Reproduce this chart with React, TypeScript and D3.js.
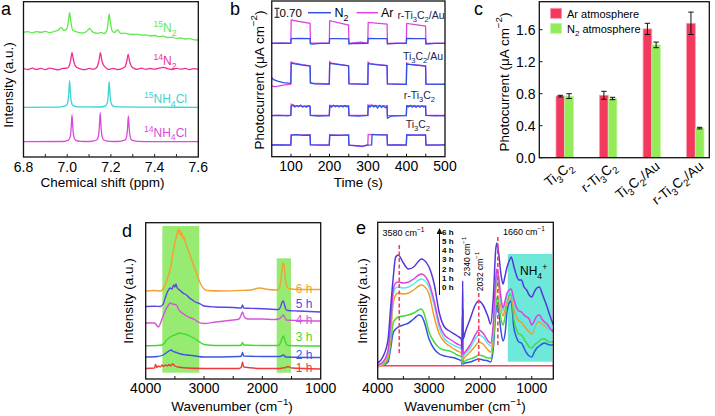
import React from "react";
import * as d3 from "d3";

const FONT = "'Liberation Sans', Arial, Helvetica, sans-serif";
type P = [number, number];

// ---------------- Panel a : 1H NMR ----------------
const A_XTICKS = [6.8, 7.0, 7.2, 7.4, 7.6];
const A_MINOR = [6.9, 7.0, 7.1, 7.2, 7.3, 7.4, 7.5];
const A_N15: P[] = [[6.8,124.7],[6.82,125.3],[6.84,124.2],[6.86,125.4],[6.88,124.6],[6.9,125.6],[6.92,124.4],[6.94,125.5],[6.96,127],[6.973,129.7],[6.985,126.5],[6.998,128],[7.005,135],[7.011,144.3],[7.017,135],[7.025,127],[7.04,125.5],[7.055,124.3],[7.07,124],[7.085,125],[7.095,127],[7.103,128.7],[7.112,126],[7.125,124.2],[7.14,123.7],[7.155,124.5],[7.17,123.5],[7.182,127],[7.187,134],[7.192,143],[7.198,134],[7.205,126.5],[7.215,124.5],[7.231,127],[7.245,123.5],[7.26,123.8],[7.28,123],[7.3,122.5],[7.32,122.8],[7.34,121.8],[7.36,122.2],[7.38,121],[7.4,121.5],[7.42,120.3],[7.44,120.8],[7.46,119.5],[7.48,119.8],[7.5,118.7],[7.52,119],[7.54,118],[7.56,118.3],[7.58,117.2],[7.6,117]];
const A_N14: P[] = [[6.8,88.5],[6.82,87.5],[6.84,88.8],[6.86,87.6],[6.88,88.6],[6.9,87.4],[6.92,88.9],[6.94,88],[6.96,87.2],[6.98,88.7],[7.0,88.8],[7.01,91.5],[7.016,97],[7.022,104.3],[7.028,97.5],[7.035,92],[7.045,89.5],[7.06,88.2],[7.08,87.3],[7.1,88.6],[7.12,87.8],[7.135,89.5],[7.145,96],[7.152,104.3],[7.158,97],[7.166,92],[7.178,89],[7.19,87.6],[7.21,88.7],[7.23,87.5],[7.25,88.4],[7.265,90.3],[7.273,96],[7.279,102.7],[7.285,96],[7.293,91],[7.305,88.6],[7.32,87.7],[7.34,88.9],[7.36,87.6],[7.38,88.5],[7.4,87.9],[7.42,88.8],[7.44,89.6],[7.46,88.3],[7.48,87.5],[7.5,88.7],[7.52,87.8],[7.54,88.6],[7.56,87.4],[7.58,88.3],[7.6,87.9]];
const A_NH4_15: P[] = [[6.8,49.7],[6.96,49.9],[6.995,51.3],[7.003,55],[7.007,63],[7.011,76.3],[7.015,63],[7.019,55],[7.027,51.3],[7.05,50.1],[7.15,50],[7.176,51.2],[7.184,54.8],[7.188,62.5],[7.192,75.3],[7.196,62.5],[7.2,54.8],[7.208,51.2],[7.23,50.1],[7.4,49.8],[7.6,49.7]];
const A_NH4_14: P[] = [[6.8,15.3],[6.98,15.5],[7.006,16.9],[7.014,20.6],[7.018,28.6],[7.022,42],[7.026,28.6],[7.03,20.6],[7.038,16.9],[7.06,15.7],[7.1,15.5],[7.135,17],[7.143,21.1],[7.147,29.8],[7.151,44.3],[7.155,29.8],[7.159,21.1],[7.167,17],[7.19,15.7],[7.23,15.5],[7.264,16.8],[7.272,20.4],[7.276,28.2],[7.28,41],[7.284,28.2],[7.288,20.4],[7.296,16.8],[7.32,15.7],[7.4,15.4],[7.6,15.3]];
const A_LABELS = ["15N2", "14N2", "15NH4Cl", "14NH4Cl"];

// ---------------- Panel b : photocurrent ----------------
const B_XTICKS = [100, 200, 300, 400, 500];
const B_MINOR = [100, 150, 200, 250, 300, 350, 400, 450];
const B_SAMPLES = ["r-Ti3C2/Au", "Ti3C2/Au", "r-Ti3C2", "Ti3C2"];
const B_RAU_N2: P[] = [[50,113.4],[75,113.6],[99.5,113.3],[100.5,118],[125,118.2],[149.5,118],[150.5,113],[155,112.5],[175,113.4],[199.5,113.3],[200.5,118],[225,118.1],[249.5,117.9],[250.5,112.8],[260,113.2],[299.5,113.3],[300.5,118.3],[325,118],[349.5,118],[350.5,112.8],[375,113.3],[399.5,113.4],[400.5,118.2],[425,118],[449.5,118],[450.5,112.7],[475,113.3],[500,113.4]];
const B_RAU_AR: P[] = [[50,113.6],[99.5,113.7],[100.5,136.7],[149.5,133.4],[150.5,113.5],[199.5,113.8],[200.5,136],[249.5,131.7],[250.5,113.2],[280,114.5],[299.5,113.6],[300.5,134.3],[349.5,132.7],[350.5,113.2],[399.5,113.7],[400.5,133.3],[449.5,130.7],[450.5,113.4],[500,113.5]];
const B_AU_N2: P[] = [[50,79],[55,77],[65,75.5],[80,74],[99.5,73.4],[100.5,93.6],[110,92.8],[130,91.5],[149.5,90.7],[150.5,74],[160,72.8],[199.5,72.5],[200.5,93.4],[225,92],[249.5,90.8],[250.5,73],[299.5,72.4],[300.5,93],[325,91.8],[349.5,91],[350.5,72.8],[399.5,72.3],[400.5,92.6],[425,91.6],[449.5,90.5],[450.5,72.6],[500,72.4]];
const B_AU_AR: P[] = [[50,70.5],[60,70],[80,71.5],[99.5,72.5],[100.5,94.7],[105,93.8],[130,92],[149.5,91],[150.5,73.5],[199.5,72.7],[200.5,95],[205,93.5],[249.5,91],[250.5,72.8],[299.5,72.5],[300.5,94.5],[305,93],[349.5,91.2],[350.5,72.8],[399.5,72.4],[400.5,93.8],[405,92.6],[449.5,90.8],[450.5,72.7],[500,72.5]];
const B_R_N2: P[] = [[50,41],[70,41.3],[90,40.8],[99.5,41.2],[100.5,50.5],[105,51.5],[110,49.8],[115,51],[120,50],[125,51.6],[130,49.5],[135,50.8],[140,49.6],[145,51],[149.5,50.2],[150.5,41.3],[170,40.7],[199.5,41],[200.5,50.8],[205,49.6],[210,51.4],[215,50],[220,51.2],[225,49.7],[230,50.9],[235,49.8],[240,51.1],[245,50],[249.5,50.6],[250.5,41],[275,40.6],[299.5,41.2],[300.5,51],[305,49.5],[310,51.5],[315,49.7],[320,51],[325,48.8],[330,51.3],[335,49.4],[340,50.7],[345,49],[349.5,50.5],[350.5,38.5],[355,39.5],[360,40.5],[375,40.8],[399.5,41],[400.5,50.8],[405,49.8],[410,51.3],[415,49.5],[420,51],[425,49.3],[430,50.9],[435,49.5],[440,51],[445,49.8],[449.5,50.5],[450.5,41.2],[475,40.8],[500,41]];
const B_R_AR: P[] = [[50,41.3],[99.5,41.5],[100.5,52.5],[110,51],[130,50.5],[149.5,50.8],[150.5,41.5],[199.5,41.2],[200.5,51.3],[225,50.8],[249.5,50.7],[250.5,41.3],[299.5,41.4],[300.5,51.5],[325,51],[349.5,50.8],[350.5,41],[399.5,41.3],[400.5,51],[425,50.8],[449.5,50.6],[450.5,41.4],[500,41.2]];
const B_T_N2: P[] = [[50,11.7],[75,11.9],[99.5,11.6],[100.5,21.5],[115,22],[130,21.3],[149.5,21.7],[150.5,11.8],[175,11.5],[199.5,11.7],[200.5,21.7],[225,21.4],[249.5,21.8],[250.5,11.5],[270,11],[285,10.5],[299.5,11.5],[309.5,11.8],[310.5,22.3],[330,21.8],[349.5,21.9],[350.5,11.6],[375,11.8],[399.5,11.6],[400.5,21.8],[425,21.5],[449.5,21.7],[450.5,11.7],[475,11.5],[500,11.8]];
const B_T_AR: P[] = [[50,11.9],[99.5,11.8],[100.5,21.9],[149.5,21.8],[150.5,12],[199.5,11.8],[200.5,21.6],[249.5,21.6],[250.5,11.5],[285,10],[299.5,12],[300.5,22.3],[310,22.1],[349.5,21.8],[350.5,11.8],[399.5,11.9],[400.5,21.8],[449.5,21.6],[450.5,11.9],[500,11.8]];
const B_SCALE_LABEL = "0.70";

// ---------------- Panel c : bars ----------------
const C_CATS = ["Ti3C2", "r-Ti3C2", "Ti3C2/Au", "r-Ti3C2/Au"];
const C_AR = [0.77, 0.78, 1.61, 1.68];
const C_AR_ERR = [0.01, 0.05, 0.07, 0.14];
const C_N2 = [0.77, 0.74, 1.41, 0.37];
const C_N2_ERR = [0.03, 0.015, 0.035, 0.01];
const C_YTICKS = [0, 0.4, 0.8, 1.2, 1.6];
const C_LEGEND = ["Ar atmosphere", "N2 atmosphere"];

// ---------------- Panel d : in-situ IR (N2) ----------------
const D_XLABELS = [4000, 3000, 2000, 1000];
const D_MINOR = [3500, 3000, 2500, 2000, 1500];
const D_BANDS: [number, number, number][] = [[3715, 3081, 153], [1754, 1509, 120.7]];
const D_TIMES = ["6 h", "5 h", "4 h", "3 h", "2 h", "1 h"];
const D_6H: P[] = [[4000,88],[3850,88.5],[3750,88],[3700,90],[3660,95],[3620,102],[3580,110],[3550,120],[3520,130],[3500,136],[3480,141],[3460,146],[3440,150],[3425,145],[3410,149],[3395,143],[3380,146],[3360,140],[3340,142],[3320,136],[3300,134],[3270,128],[3240,124],[3200,117],[3150,109],[3100,101],[3050,94],[3000,90],[2950,88.5],[2700,88],[2400,88.5],[2200,89],[2050,91],[1900,89.5],[1760,89],[1720,90],[1690,96],[1670,106],[1650,115],[1640,116],[1625,112],[1605,100],[1580,93],[1550,90.5],[1400,89.5],[1000,89.5]];
const D_5H: P[] = [[4000,72.5],[3850,72.8],[3750,72.5],[3700,75],[3660,82],[3620,88],[3580,91],[3550,90],[3520,94],[3500,92],[3480,95],[3460,91],[3440,90],[3400,88],[3350,85.5],[3300,84],[3250,81],[3200,79],[3150,77],[3100,76],[3050,74.5],[3000,73],[2800,72],[2500,71.5],[2360,71],[2340,74],[2320,71],[2100,70.5],[1900,70],[1720,69.5],[1690,72],[1660,77],[1640,78],[1620,74],[1590,69],[1560,68.5],[1400,68],[1200,67.5],[1000,67]];
const D_4H: P[] = [[4000,56],[3850,56],[3780,52],[3740,57],[3700,63],[3660,69],[3620,73],[3580,76],[3540,75],[3500,74.5],[3470,74],[3440,70],[3400,67],[3350,65],[3300,63],[3250,61.5],[3200,60.5],[3150,59],[3100,57],[3000,55.5],[2800,57],[2500,59],[2400,60],[2370,63],[2340,67],[2310,62],[2250,60],[2000,60],[1800,59.5],[1720,60],[1690,61],[1660,63],[1640,64],[1620,62],[1590,59],[1400,58.5],[1000,58]];
const D_3H: P[] = [[4000,33.3],[3800,33.5],[3720,34],[3680,36],[3640,39],[3600,41],[3550,43],[3500,44],[3450,45.5],[3400,46],[3350,45],[3300,44.5],[3250,43],[3200,41.5],[3150,40],[3100,38],[3050,36],[3000,34.5],[2800,33.5],[2400,33.5],[2360,34],[2340,36.5],[2320,34],[2000,33.5],[1720,33.5],[1690,36],[1660,41],[1640,43],[1620,40],[1590,35],[1560,33.5],[1000,33]];
const D_2H: P[] = [[4000,22],[3800,22.5],[3700,24],[3650,26],[3600,28],[3560,29],[3530,27.5],[3500,27],[3450,26],[3400,25],[3300,24],[3200,23.5],[3100,22.5],[3000,22],[2400,22.5],[2360,23],[2340,26.5],[2320,23],[2000,22.5],[1700,22.5],[1660,23.5],[1640,24],[1600,22],[1000,21.5]];
const D_1H: P[] = [[4000,10.5],[3850,11],[3830,14.5],[3810,11.5],[3780,13],[3750,12],[3720,14],[3700,12.5],[3660,14],[3630,13],[3600,14.5],[3570,13],[3540,15],[3500,13],[3450,12],[3300,11],[3000,10.5],[2400,10.5],[2360,12],[2340,17],[2320,12],[2000,10.5],[1700,10.5],[1660,11],[1600,11.5],[1560,12.5],[1500,11],[1000,10]];

// ---------------- Panel e : in-situ IR ----------------
const E_XLABELS = [4000, 3000, 2000, 1000];
const E_MINOR = [3500, 3000, 2500, 2000, 1500, 1000];
const E_WN = [4000,3900,3800,3750,3700,3650,3600,3500,3400,3300,3200,3150,3100,3000,2900,2800,2700,2600,2450,2370,2355,2345,2335,2300,2200,2100,2032,1950,1850,1800,1750,1700,1680,1650,1600,1560,1520,1480,1440,1400,1350,1300,1250,1200,1150,1100,1050,1000,950,900,850,800,750,700,650,600,580];
const E_6H = [16,22,39,70,100,122,124,116,110,112,118,120,119,112,95,66,52,48,43,40,30,98,40,46,60,74,78,74,62,55,80,130,136,128,105,95,103,112,118,122,113,104,99,99,92,89,84,82,87,91,92,86,79,72,64,57,54];
const E_5H = [14,17,28,55,88,96,97,96,97,100,104,105,104,96,78,55,44,40,35,33,22,70,25,27,34,44,49,46,38,36,55,100,110,104,82,71,78,86,89,90,80,72,68,67,64,62,60,54,58,63,64,60,57,55,51,48,47];
const E_4H = [13,16,26,50,84,91,92,91,92,95,99,100,99,92,74,51,40,36,32,30,20,70,23,25,31,40,44,42,35,33,50,95,105,100,78,68,75,83,86,87,76,66,62,60,57,55,51,47,52,58,60,56,55,52,50,49,50];
const E_3H = [12,14,22,42,75,84,86,85,86,89,93,94,93,85,62,45,37,33,28,26,18,70,20,22,27,33,37,35,29,27,44,88,100,96,72,63,70,77,80,80,70,62,58,57,53,50,47,45,50,56,57,55,53,51,50,49,49];
const E_2H = [13,14,20,35,56,60,62,63,64,66,69,70,66,47,37,31,29,28,24,22,15,70,16,18,20,22,24,23,21,21,35,72,82,78,60,54,62,76,83,85,60,50,45,44,40,36,32,31,34,36,38,40,40,38,37,37,37];
const E_1H = [13,14,17,30,46,50,52,54,56,60,64,63,58,40,30,25,23,22,20,18,14,70,15,16,17,19,20,19,18,17,30,66,74,70,48,38,45,68,76,78,52,42,37,36,31,26,23,22,27,31,33,35,36,35,34,34,34];
const E_0H: P[] = [[4000, 13.3], [580, 13.3]];
const E_TIMES = ["6 h", "5 h", "4 h", "3 h", "2 h", "1 h", "0 h"];
const E_DASHED: [number, number, number][] = [[3580, 134, 24], [2032, 86, 16], [1660, 142, 32]];
const E_NH4_BOX = [1467, 601, 125, 17.3];

// ---------------- helpers ----------------
type Kind = "n" | "b" | "p";
function parts(ps: [string, Kind][], fs: number) {
  let cur = 0;
  return ps.map(([t, k], i) => {
    const target = k === "b" ? 0.3 * fs : k === "p" ? -0.42 * fs : 0;
    const dy = target - cur;
    cur = target;
    return (
      <tspan key={i} dy={dy} fontSize={k === "n" ? fs : 0.72 * fs}>
        {t}
      </tspan>
    );
  });
}
function chem(s: string, fs: number) {
  const toks = s.match(/(\d+|\+|[^\d+]+)/g) || [];
  const ps: [string, Kind][] = toks.map((t, i) => {
    if (/^\d+$/.test(t)) return [t, i === 0 ? "p" : "b"];
    if (t === "+") return [t, "p"];
    return [t, "n"];
  });
  return parts(ps, fs);
}
function unit(pre: string, exp: string, fs: number) {
  return parts([[pre, "n"], [exp, "p"], [")", "n"]], fs);
}

const TICK_FS = 14;
const TITLE_FS = 13.5;

function Frame({ x, y }: { x: any; y: any }) {
  const [x0, x1] = x.range();
  const [y0, y1] = y.range();
  return (
    <rect x={Math.min(x0, x1)} y={Math.min(y0, y1)} width={Math.abs(x1 - x0)} height={Math.abs(y1 - y0)}
      fill="none" stroke="#111" strokeWidth={1.3} />
  );
}

function PanelA() {
  const x = d3.scaleLinear([6.8, 7.6], [23.5, 198.3]);
  const y = d3.scaleLinear([0, 155.3], [157, 1.7]);
  const line = d3.line<P>().x((d) => x(d[0])).y((d) => y(d[1])).curve(d3.curveMonotoneX);
  const ser = [
    { d: A_N15, c: "#5fe84f", lx: 176.5, ly: 32.3 },
    { d: A_N14, c: "#ee2f95", lx: 176.5, ly: 65 },
    { d: A_NH4_15, c: "#3fd2d2", lx: 187, ly: 103.3 },
    { d: A_NH4_14, c: "#d94bdc", lx: 187, ly: 136.7 },
  ];
  const yb = y(0);
  return (
    <g>
      {ser.map((s, i) => (
        <path key={i} d={line(s.d) || ""} fill="none" stroke={s.c} strokeWidth={1.3} />
      ))}
      {ser.map((s, i) => (
        <text key={i} x={s.lx} y={s.ly} fill={s.c} textAnchor="end" fontSize={12}>
          {chem(A_LABELS[i], 12)}
        </text>
      ))}
      <Frame x={x} y={y} />
      {A_MINOR.map((t) => (
        <line key={t} x1={x(t)} x2={x(t)} y1={yb} y2={yb - 3} stroke="#224" strokeWidth={1} />
      ))}
      {A_XTICKS.map((t) => (
        <text key={t} x={x(t)} y={171.5} textAnchor="middle" fontSize={TICK_FS}>
          {d3.format(".1f")(t)}
        </text>
      ))}
      <text x={102.5} y={187} textAnchor="middle" fontSize={TITLE_FS}>Chemical shift (ppm)</text>
      <text transform="translate(8.5,85) rotate(-90)" textAnchor="middle" dominantBaseline="central" fontSize={TITLE_FS}>
        Intensity (a.u.)
      </text>
      <text x={1} y={15} fontSize={18}>a</text>
    </g>
  );
}

function PanelB() {
  const x = d3.scaleLinear([50, 500], [271.75, 445]);
  const y = d3.scaleLinear([0, 155.7], [156.7, 1]);
  const line = d3.line<P>().x((d) => x(d[0])).y((d) => y(d[1]));
  const N2C = "#3150e6";
  const ARC = "#e043e3";
  const pairs = [
    { ar: B_RAU_AR, n2: B_RAU_N2, lx: 444.5, ly: 18.5 },
    { ar: B_AU_AR, n2: B_AU_N2, lx: 443, ly: 60 },
    { ar: B_R_AR, n2: B_R_N2, lx: 435, ly: 99 },
    { ar: B_T_AR, n2: B_T_N2, lx: 430, ly: 128.3 },
  ];
  const yb = y(0);
  return (
    <g>
      {pairs.map((p, i) => (
        <g key={i}>
          <path d={line(p.ar) || ""} fill="none" stroke={ARC} strokeWidth={1.3} />
          <path d={line(p.n2) || ""} fill="none" stroke={N2C} strokeWidth={1.3} />
          <text x={p.lx} y={p.ly} textAnchor="end" fontSize={10.5} fill="#23234f">
            {chem(B_SAMPLES[i], 10.5)}
          </text>
        </g>
      ))}
      <Frame x={x} y={y} />
      {B_MINOR.map((t) => (
        <line key={t} x1={x(t)} x2={x(t)} y1={yb} y2={yb - 3} stroke="#111" strokeWidth={1} />
      ))}
      {B_XTICKS.map((t) => (
        <text key={t} x={x(t)} y={171} textAnchor="middle" fontSize={TICK_FS}>{t}</text>
      ))}
      <text x={358.3} y={187} textAnchor="middle" fontSize={TITLE_FS}>Time (s)</text>
      <text transform="translate(258.5,80) rotate(-90)" textAnchor="middle" dominantBaseline="central" fontSize={TITLE_FS}>
        {unit("Photocurrent (μA cm", "−2", TITLE_FS)}
      </text>
      <g stroke="#111" strokeWidth={1}>
        <line x1={277} x2={277} y1={y(148.4)} y2={y(139.4)} />
        <line x1={274.5} x2={279.5} y1={y(148.4)} y2={y(148.4)} />
        <line x1={274.5} x2={279.5} y1={y(139.4)} y2={y(139.4)} />
      </g>
      <text x={279.5} y={17.3} fontSize={11.5}>{B_SCALE_LABEL}</text>
      <line x1={308} x2={331} y1={12.7} y2={12.7} stroke={N2C} strokeWidth={1.5} />
      <text x={334.5} y={16.8} fontSize={12.5}>{parts([["N", "n"], ["2", "b"]], 12.5)}</text>
      <line x1={356.5} x2={378} y1={12.7} y2={12.7} stroke={ARC} strokeWidth={1.5} />
      <text x={381} y={16.8} fontSize={12.5}>Ar</text>
      <text x={230} y={15} fontSize={18}>b</text>
    </g>
  );
}

function PanelC() {
  const x = d3.scalePoint<string>().domain(C_CATS).range([564.7, 695.3]);
  const y = d3.scaleLinear([0, 1.95], [157.7, 1.7]);
  const bw = 8.7;
  const RED = "#f33a5e";
  const GREEN = "#93eb58";
  const frameX = d3.scaleLinear([0, 1], [539.3, 709.3]);
  const err = (cx: number, v: number, e: number, k: string) => (
    <g key={k} stroke="#111" strokeWidth={1}>
      <line x1={cx} x2={cx} y1={y(v + e)} y2={y(v - e)} />
      <line x1={cx - 2.7} x2={cx + 2.7} y1={y(v + e)} y2={y(v + e)} />
      <line x1={cx - 2.7} x2={cx + 2.7} y1={y(v - e)} y2={y(v - e)} />
    </g>
  );
  return (
    <g>
      {C_CATS.map((c, i) => {
        const cx = x(c) as number;
        return (
          <g key={c}>
            <rect x={cx - bw} y={y(C_AR[i])} width={bw} height={y(0) - y(C_AR[i])} fill={RED} stroke="#f89bb0" strokeWidth={0.8} />
            <rect x={cx} y={y(C_N2[i])} width={bw} height={y(0) - y(C_N2[i])} fill={GREEN} stroke="#c5f3a4" strokeWidth={0.8} />
            {err(cx - bw / 2, C_AR[i], C_AR_ERR[i], "a" + i)}
            {err(cx + bw / 2, C_N2[i], C_N2_ERR[i], "n" + i)}
            <text transform={`translate(${cx + 9},168) rotate(-38)`} textAnchor="end" fontSize={13.5}>
              {chem(c, 13.5)}
            </text>
          </g>
        );
      })}
      <Frame x={frameX} y={y} />
      {C_YTICKS.map((t) => (
        <g key={t}>
          <line x1={539.3} x2={542.5} y1={y(t)} y2={y(t)} stroke="#111" strokeWidth={1} />
          <text x={535.5} y={y(t)} dy="0.35em" textAnchor="end" fontSize={TICK_FS}>{d3.format(".1f")(t)}</text>
        </g>
      ))}
      <text transform="translate(503.5,82) rotate(-90)" textAnchor="middle" dominantBaseline="central" fontSize={TITLE_FS}>
        {unit("Photocurrent (μA cm", "−2", TITLE_FS)}
      </text>
      <rect x={550.5} y={8.3} width={11} height={10} fill={RED} stroke="#f89bb0" strokeWidth={0.8} />
      <rect x={550.5} y={23.3} width={11} height={10} fill={GREEN} stroke="#c5f3a4" strokeWidth={0.8} />
      <text x={567} y={17.5} fontSize={11}>{C_LEGEND[0]}</text>
      <text x={567} y={32.5} fontSize={11}>{chem(C_LEGEND[1], 11)}</text>
      <text x={474} y={15} fontSize={18}>c</text>
    </g>
  );
}

function PanelD() {
  const x = d3.scaleLinear([4000, 1000], [145.7, 320.7]);
  const y = d3.scaleLinear([0, 156.3], [379, 222.7]);
  const line = d3.line<P>().x((d) => x(d[0])).y((d) => y(d[1])).curve(d3.curveMonotoneX);
  const ser = [
    { d: D_1H, c: "#f0393c", ly: 368.3 },
    { d: D_2H, c: "#3a57e2", ly: 355 },
    { d: D_3H, c: "#3edc2e", ly: 337.3 },
    { d: D_4H, c: "#d853dc", ly: 320 },
    { d: D_5H, c: "#5c45e8", ly: 304 },
    { d: D_6H, c: "#f4a131", ly: 289.3 },
  ];
  const yb = y(0);
  return (
    <g>
      {D_BANDS.map(([a, b, top], i) => (
        <rect key={i} x={x(a)} width={x(b) - x(a)} y={y(top)} height={y(6.3) - y(top)} fill="#97ea72" />
      ))}
      {ser.map((s, i) => (
        <path key={i} d={line(s.d) || ""} fill="none" stroke={s.c} strokeWidth={1.4} />
      ))}
      {ser.map((s, i) => (
        <text key={i} x={312.5} y={s.ly} dominantBaseline="central" textAnchor="end" fontSize={12} fill={s.c}>
          {D_TIMES[5 - i]}
        </text>
      ))}
      <Frame x={x} y={y} />
      {D_MINOR.map((t) => (
        <line key={t} x1={x(t)} x2={x(t)} y1={yb} y2={yb - 3} stroke="#111" strokeWidth={1} />
      ))}
      {D_XLABELS.map((t) => (
        <text key={t} x={x(t)} y={393} textAnchor="middle" fontSize={TICK_FS}>{t}</text>
      ))}
      <text x={232} y={410.5} textAnchor="middle" fontSize={TITLE_FS}>{unit("Wavenumber (cm", "−1", TITLE_FS)}</text>
      <text transform="translate(128.5,301) rotate(-90)" textAnchor="middle" dominantBaseline="central" fontSize={TITLE_FS}>
        Intensity (a.u.)
      </text>
      <text x={122} y={237} fontSize={18}>d</text>
    </g>
  );
}

function PanelE() {
  const x = d3.scaleLinear([4000, 580], [377.7, 553.3]);
  const y = d3.scaleLinear([0, 156.7], [379, 222.3]);
  const line = d3.line<P>().x((d) => x(d[0])).y((d) => y(d[1])).curve(d3.curveMonotoneX);
  const zip = (v: number[]): P[] => E_WN.map((w, i) => [w, v[i]]);
  const ser = [
    { d: E_0H, c: "#f5405c" },
    { d: zip(E_1H), c: "#3551e2" },
    { d: zip(E_2H), c: "#43d943" },
    { d: zip(E_3H), c: "#f59a28" },
    { d: zip(E_4H), c: "#55e8ee" },
    { d: zip(E_5H), c: "#dc42dc" },
    { d: zip(E_6H), c: "#5535dc" },
  ];
  const yb = y(0);
  const [b0, b1, bt, bb] = E_NH4_BOX;
  return (
    <g>
      <defs>
        <clipPath id="clipE">
          <rect x={377.7} y={222.3} width={175.6} height={156.7} />
        </clipPath>
        <marker id="arrE" markerWidth="6" markerHeight="6" refX="3" refY="3" orient="auto">
          <path d="M0,0 L6,3 L0,6 z" fill="#111" />
        </marker>
      </defs>
      <rect x={x(b0)} width={x(b1) - x(b0)} y={y(bt)} height={y(bb) - y(bt)} fill="#6ee9d9" />
      <g clipPath="url(#clipE)">
        {ser.map((s, i) => (
          <path key={i} d={line(s.d) || ""} fill="none" stroke={s.c} strokeWidth={1.5} />
        ))}
      </g>
      {E_DASHED.map(([w, t, b]) => (
        <line key={w} x1={x(w)} x2={x(w)} y1={y(t)} y2={y(b)} stroke="#f2405e" strokeWidth={1.6} strokeDasharray="4,2.5" />
      ))}
      <Frame x={x} y={y} />
      {E_MINOR.map((t) => (
        <line key={t} x1={x(t)} x2={x(t)} y1={yb} y2={yb - 3} stroke="#111" strokeWidth={1} />
      ))}
      {E_XLABELS.map((t) => (
        <text key={t} x={x(t)} y={393} textAnchor="middle" fontSize={TICK_FS}>{t}</text>
      ))}
      <text x={465} y={410.5} textAnchor="middle" fontSize={TITLE_FS}>{unit("Wavenumber (cm", "−1", TITLE_FS)}</text>
      <text transform="translate(362.5,301) rotate(-90)" textAnchor="middle" dominantBaseline="central" fontSize={TITLE_FS}>
        Intensity (a.u.)
      </text>
      <text x={356} y={234} fontSize={18}>e</text>
      <text x={382.5} y={236} fontSize={9}>{parts([["3580 cm", "n"], ["−1", "p"]], 9)}</text>
      <text x={503} y={235} fontSize={9}>{parts([["1660 cm", "n"], ["−1", "p"]], 9)}</text>
      <text transform="translate(467,256.5) rotate(-90)" textAnchor="middle" dominantBaseline="central" fontSize={8.5}>
        {parts([["2340 cm", "n"], ["−1", "p"]], 8.5)}
      </text>
      <text transform="translate(480,271.5) rotate(-90)" textAnchor="middle" dominantBaseline="central" fontSize={8.5}>
        {parts([["2032 cm", "n"], ["−1", "p"]], 8.5)}
      </text>
      <line x1={439.5} x2={439.5} y1={295} y2={231} stroke="#111" strokeWidth={1} markerEnd="url(#arrE)" />
      {E_TIMES.map((t, i) => (
        <text key={t} x={442} y={232.3 + i * 9.2} dominantBaseline="central" fontSize={8} fontWeight={700}>{t}</text>
      ))}
      <text x={520} y={275} fontSize={12}>{chem("NH4+", 12)}</text>
    </g>
  );
}

export default function App() {
  return (
    <svg width={715} height={416} style={{ position: "absolute", left: 0, top: 0 }} fontFamily={FONT}>
      <rect width={715} height={416} fill="#fff" />
      <PanelA />
      <PanelB />
      <PanelC />
      <PanelD />
      <PanelE />
    </svg>
  );
}
